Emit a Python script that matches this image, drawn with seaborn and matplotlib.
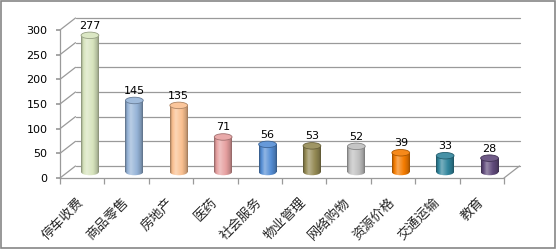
import numpy as np
import matplotlib
matplotlib.use('Agg')
import matplotlib.pyplot as plt
import matplotlib.transforms as mtransforms
import matplotlib.colors as mcolors
from matplotlib.patches import Ellipse, Rectangle
from matplotlib.lines import Line2D
import seaborn as sns
import pandas as pd

categories = ['停车收费', '商品零售', '房地产', '医药', '社会服务',
              '物业管理', '网络购物', '资源价格', '交通运输', '教育']
values = [277, 145, 135, 71, 56, 53, 52, 39, 33, 28]
colors = ['#d7e4bd', '#95b3d7', '#fac090', '#e6a0a0', '#558ed5',
          '#948a54', '#bfbfbf', '#f57c00', '#31859c', '#604a7b']
yticks = [0, 50, 100, 150, 200, 250, 300]

sns.set_theme(style='white')
plt.rcParams['font.family'] = ['DejaVu Sans']

W, H = 556, 249
DPI = 100
fig = plt.figure(figsize=(W / DPI, H / DPI), dpi=DPI)
fig.patch.set_facecolor('white')

fx0, fx1 = 60, 504
fy0, fy1 = 178, 30
ax = fig.add_axes([fx0 / W, (H - fy0) / H, (fx1 - fx0) / W, (fy0 - fy1) / H])
ax.patch.set_alpha(0)

DX, DY = 15.5, 12.0
back = ax.transData + mtransforms.ScaledTranslation(DX / DPI, DY / DPI, fig.dpi_scale_trans)
mid = ax.transData + mtransforms.ScaledTranslation(DX / 2 / DPI, DY / 2 / DPI, fig.dpi_scale_trans)

df = pd.DataFrame({'cat': categories, 'val': values})
BW = 0.4
sns.barplot(data=df, x='cat', y='val', hue='cat', palette=colors, legend=False,
            width=BW, ax=ax, saturation=1, dodge=False)
ax.set_xlim(-0.5, 9.5)
ax.set_ylim(0, 300)

gc = '#9a9a9a'
# back wall gridlines and left-wall diagonals
for y in yticks:
    ax.plot([-0.5, 9.5], [y, y], transform=back, color=gc, lw=0.9,
            clip_on=False, zorder=0.5)
    p = ax.transData.transform((-0.5, y))
    fig.add_artist(Line2D([p[0], p[0] + DX], [p[1], p[1] + DY],
                          transform=mtransforms.IdentityTransform(),
                          color=gc, lw=0.9))
p = ax.transData.transform((9.5, 0))
fig.add_artist(Line2D([p[0], p[0] + DX], [p[1], p[1] + DY],
                      transform=mtransforms.IdentityTransform(), color=gc, lw=0.9))


def mix(c, other, t):
    c = np.array(mcolors.to_rgb(c))
    o = np.array(mcolors.to_rgb(other))
    return tuple(c * (1 - t) + o * t)


us = np.linspace(0, 1, 64)
prof_u = [0, 0.08, 0.32, 0.65, 0.9, 1.0]
prof_f = [-0.4, -0.12, 0.35, 0.02, -0.18, -0.38]

px_per_unit = (fy0 - fy1) / 300.0
ell_h = 6.5 / px_per_unit

for patch, col in zip(ax.patches[:len(values)], colors):
    x0 = patch.get_x()
    w = patch.get_width()
    h = patch.get_height()
    xc = x0 + w / 2
    patch.set_transform(mid)
    patch.set_facecolor('none')
    patch.set_edgecolor('none')
    f = np.interp(us, prof_u, prof_f)
    grad = np.zeros((1, len(us), 3))
    for k, fv in enumerate(f):
        grad[0, k] = mix(col, 'black', -fv) if fv < 0 else mix(col, 'white', fv)
    im = ax.imshow(grad, extent=[x0, x0 + w, 0, h], aspect='auto',
                   transform=mid, zorder=3, interpolation='bilinear')
    im.set_clip_path(patch)
    bot = Ellipse((xc, 0), w, ell_h, transform=mid, facecolor='none',
                  edgecolor='none', zorder=2)
    ax.add_patch(bot)
    im2 = ax.imshow(grad, extent=[x0, x0 + w, -ell_h, ell_h], aspect='auto',
                    transform=mid, zorder=2, interpolation='bilinear')
    im2.set_clip_path(bot)
    top = Ellipse((xc, h), w, ell_h, transform=mid,
                  facecolor=mix(col, 'white', 0.1),
                  edgecolor=mix(col, 'black', 0.3), lw=0.6, zorder=4)
    ax.add_patch(top)
    ax.annotate(str(int(h)), xy=(xc, h), xycoords=mid, xytext=(0, 4.5),
                textcoords='offset pixels', ha='center', va='bottom',
                fontsize=8, color='black', zorder=5, annotation_clip=False)

ax.set_xlim(-0.5, 9.5)
ax.set_ylim(0, 300)

# spines
for s in ['top', 'right']:
    ax.spines[s].set_visible(False)
for s in ['left', 'bottom']:
    ax.spines[s].set_color(gc)
    ax.spines[s].set_linewidth(0.9)

ax.set_xlabel('')
ax.set_ylabel('')
ax.set_yticks(yticks)
ax.set_yticklabels([str(v) for v in yticks])
ax.tick_params(axis='y', left=True, length=3, color=gc, labelsize=8, pad=6,
               labelcolor='black')
ax.set_xticks(range(len(categories)))
ax.set_xticklabels(categories)
ax.set_xticks(np.arange(-0.5, len(categories), 1.0), minor=True)
ax.tick_params(axis='x', which='major', bottom=False, length=0, pad=16)
ax.tick_params(axis='x', which='minor', bottom=True, length=4, color=gc, width=0.9)
for lab in ax.get_xticklabels():
    lab.set_fontfamily(['Noto Sans CJK SC', 'DejaVu Sans'])
    lab.set_fontsize(9.5)
    lab.set_rotation(45)
    lab.set_ha('right')
    lab.set_va('center')
    lab.set_rotation_mode('anchor')
ax.grid(False)

fig.add_artist(Rectangle((0.5 / W, 1.5 / H), (W - 2) / W, (H - 2.5) / H,
                         transform=fig.transFigure, fill=False,
                         edgecolor='#868686', lw=1.2))

fig.savefig('out.png', dpi=DPI, facecolor='white')
